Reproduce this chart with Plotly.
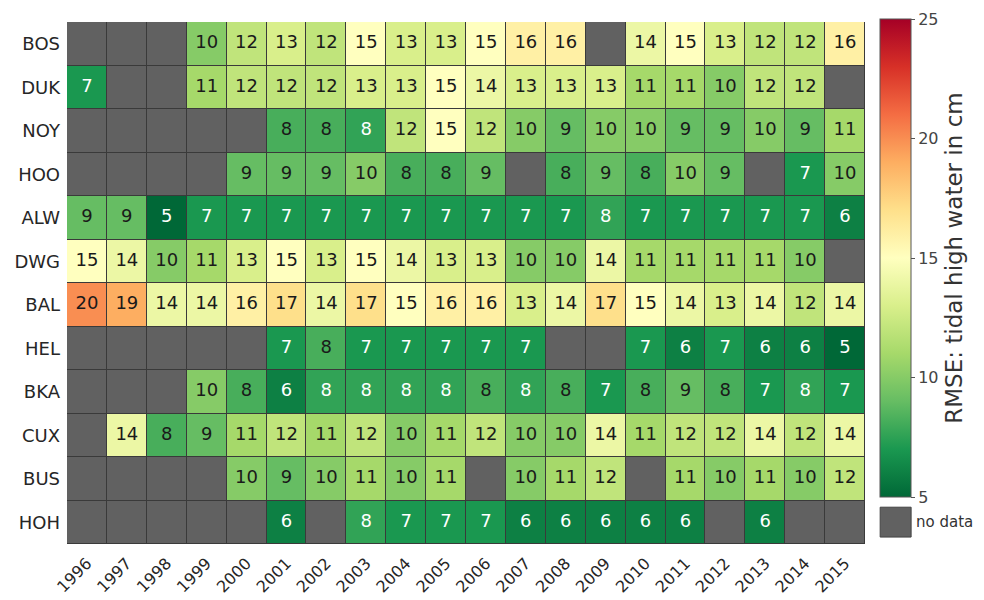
import plotly.graph_objects as go
import plotly.express as px

years = [str(y) for y in range(1996, 2016)]
stations = ["BOS", "DUK", "NOY", "HOO", "ALW", "DWG", "BAL", "HEL", "BKA", "CUX", "BUS", "HOH"]
N = None
# RMSE values (cm); 8-values shown with white text estimated slightly below 8
BOS = [N, N, N, 10, 12, 13, 12, 15, 13, 13, 15, 16, 16, N, 14, 15, 13, 12, 12, 16]
DUK = [7, N, N, 11, 12, 12, 12, 13, 13, 15, 14, 13, 13, 13, 11, 11, 10, 12, 12, N]
NOY = [N, N, N, N, N, 8.2, 8.2, 7.6, 12, 15, 12, 10, 9, 10, 10, 9, 9, 10, 9, 11]
HOO = [N, N, N, N, 9, 9, 9, 10, 8.2, 8.2, 9, N, 8.2, 9, 8.2, 10, 9, N, 7, 10]
ALW = [9, 9, 5, 7, 7, 7, 7, 7, 7, 7, 7, 7, 7, 7.6, 7, 7, 7, 7, 7, 6]
DWG = [15, 14, 10, 11, 13, 15, 13, 15, 14, 13, 13, 10, 10, 14, 11, 11, 11, 11, 10, N]
BAL = [20, 19, 14, 14, 16, 17, 14, 17, 15, 16, 16, 13, 14, 17, 15, 14, 13, 14, 12, 14]
HEL = [N, N, N, N, N, 7, 8.2, 7, 7, 7, 7, 7, N, N, 7, 6, 7, 6, 6, 5]
BKA = [N, N, N, 10, 8.2, 6, 7.6, 7.6, 7.6, 7.6, 8.2, 7.6, 8.2, 7, 8.2, 9, 8.2, 7, 7.6, 7]
CUX = [N, 14, 8.2, 9, 11, 12, 11, 12, 10, 11, 12, 10, 10, 14, 11, 12, 12, 14, 12, 14]
BUS = [N, N, N, N, 10, 9, 10, 11, 10, 11, N, 10, 11, 12, N, 11, 10, 11, 10, 12]
HOH = [N, N, N, N, N, 6, N, 7.6, 7, 7, 7, 6, 6, 6, 6, 6, N, 6, N, N]
rows = [BOS, DUK, NOY, HOO, ALW, DWG, BAL, HEL, BKA, CUX, BUS, HOH]
cbar_ticks = [5, 10, 15, 20, 25]

FONT = "DejaVu Sans"
GRAY = "#616161"
scale = list(reversed(px.colors.diverging.RdYlGn))

fig = go.Figure()
# no-data background cells
fig.add_trace(go.Heatmap(
    x=years, y=stations, z=[[1] * len(years) for _ in stations],
    colorscale=[[0, GRAY], [1, GRAY]], showscale=False, xgap=1, ygap=1,
    hoverinfo="skip"))
fig.add_trace(go.Heatmap(
    x=years, y=stations, z=rows, zmin=5, zmax=25, colorscale=scale,
    xgap=1, ygap=1,
    colorbar=dict(
        x=1.019, xanchor="left", xpad=0, ypad=0,
        y=1.0057, yanchor="top", len=0.916, lenmode="fraction",
        thickness=31, outlinewidth=1, outlinecolor="#555",
        tickvals=cbar_ticks, ticks="outside", ticklen=4, tickcolor="#555",
        tickfont=dict(family=FONT, size=16, color="#444"),
        title=dict(text="RMSE: tidal high water in cm", side="right",
                   font=dict(family=FONT, size=23, color="#333")))))

tx, ty, tt, tc = [], [], [], []
for st, row in zip(stations, rows):
    for yr, v in zip(years, row):
        if v is None:
            continue
        tx.append(yr); ty.append(st); tt.append(str(round(v)))
        tc.append("white" if v < 8 else "#1a1a1a")
fig.add_trace(go.Scatter(x=tx, y=ty, text=tt, mode="text",
                         textfont=dict(family=FONT, size=18, color=tc),
                         hoverinfo="skip", showlegend=False))

# no data legend box
fig.add_shape(type="rect", xref="paper", yref="paper",
              x0=1.019, x1=1.0578, y0=0.0133, y1=0.0705,
              fillcolor=GRAY, line=dict(color="#444", width=1))
fig.add_annotation(xref="paper", yref="paper", x=1.061, y=0.042,
                   xanchor="left", yanchor="middle", showarrow=False,
                   text="no data", font=dict(family=FONT, size=15, color="#333"))

fig.update_xaxes(type="category", range=[-0.5, len(years) - 0.5], tickangle=-45,
                 showgrid=False, zeroline=False, automargin=False,
                 tickfont=dict(family=FONT, size=16, color="#262626"),
                 showline=False, ticks="", ticklabelstandoff=6)
fig.update_yaxes(type="category", range=[len(stations) - 0.5, -0.5],
                 showgrid=False, zeroline=False, automargin=False,
                 tickfont=dict(family=FONT, size=18, color="#262626"),
                 ticks="", ticklabelstandoff=6)
# page body adds an 8px offset; figure is sized so plot area lands where the reference has it
fig.update_layout(width=976, height=592,
                  margin=dict(l=59, r=119, t=11, b=56),
                  plot_bgcolor="#3a3a3a", paper_bgcolor="white",
                  showlegend=False)
fig.write_html("out.html")
